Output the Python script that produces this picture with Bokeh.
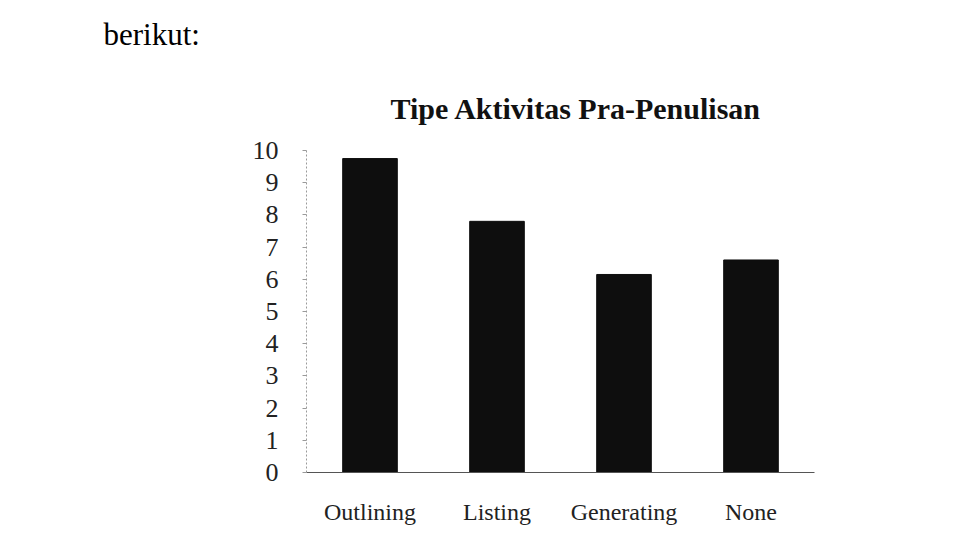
from bokeh.plotting import figure
from bokeh.models import Range1d, FactorRange, Title, FixedTicker
from bokeh.embed import file_html
from bokeh.resources import INLINE

categories = ["Outlining", "Listing", "Generating", "None"]
values = [9.75, 7.8, 6.15, 6.6]
y_ticks = list(range(0, 11))
title_text = "Tipe Aktivitas Pra-Penulisan"
intro_text = "berikut:"

SERIF = "Liberation Serif"

p = figure(
    x_range=FactorRange(*categories, range_padding=0),
    y_range=Range1d(0, 10),
    width=961, height=527,
    output_backend="svg", toolbar_location=None,
    min_border_left=306, min_border_right=147,
    min_border_top=150, min_border_bottom=40,
)
p.outline_line_color = None
p.grid.grid_line_color = None
p.background_fill_color = "white"
p.border_fill_color = "white"

p.vbar(x=categories, top=values, width=0.43, fill_color="#0e0e0e", line_color="#0e0e0e")

ya = p.yaxis[0]
ya.ticker = FixedTicker(ticks=y_ticks)
ya.axis_line_color = "#9a9a9a"
ya.axis_line_dash = "2 2"
ya.major_tick_line_color = "#9a9a9a"
ya.major_tick_in = 0
ya.major_tick_out = 4
ya.minor_tick_line_color = None
ya.major_label_text_font = SERIF
ya.major_label_text_font_size = "26px"
ya.major_label_text_color = "#222222"
ya.major_label_standoff = 24

xa = p.xaxis[0]
xa.axis_line_color = "#555555"
xa.major_tick_line_color = None
xa.minor_tick_line_color = None
xa.major_label_text_font = SERIF
xa.major_label_text_font_size = "24px"
xa.major_label_text_color = "#222222"
xa.major_label_standoff = 20

p.add_layout(Title(text=title_text, align="left", offset=84, standoff=52,
                   text_font=SERIF, text_font_style="bold",
                   text_font_size="30px", text_color="#111111"), "above")
p.add_layout(Title(text=intro_text, align="left", offset=-203, standoff=24,
                   text_font=SERIF, text_font_style="normal",
                   text_font_size="31px", text_color="#000000"), "above")

open("out.html", "w").write(file_html(p, INLINE))
